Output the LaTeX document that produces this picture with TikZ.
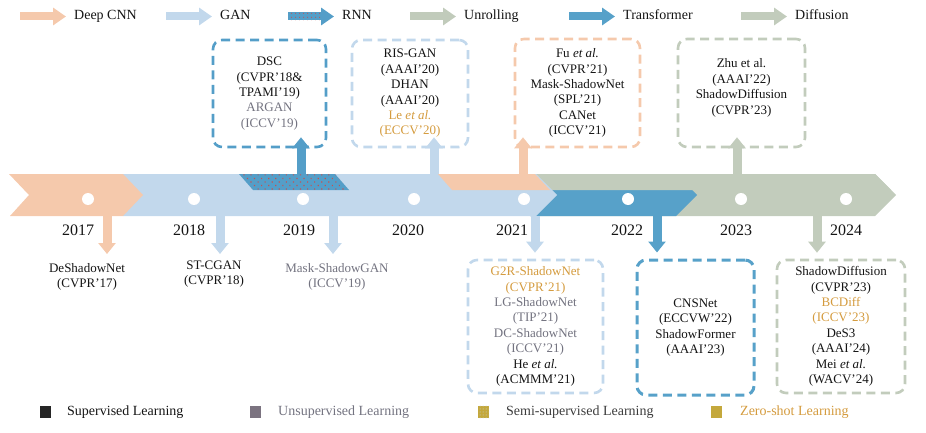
\documentclass[tikz,border=0pt]{standalone}
\usepackage{fontspec}
\setmainfont{Liberation Serif}
\usetikzlibrary{arrows.meta,calc,patterns.meta}

\definecolor{cnn}{RGB}{245,201,172}
\definecolor{gan}{RGB}{194,216,236}
\definecolor{rnn}{RGB}{84,158,200}
\definecolor{rnndot}{RGB}{200,80,80}
\definecolor{unroll}{RGB}{193,203,187}
\definecolor{trans}{RGB}{87,161,201}
\definecolor{diff}{RGB}{194,204,188}
\definecolor{ink}{RGB}{20,20,20}
\definecolor{unsup}{RGB}{115,115,128}
\definecolor{unsq}{RGB}{123,115,128}
\definecolor{supsq}{RGB}{38,38,38}
\definecolor{zero}{RGB}{212,155,62}
\definecolor{gold}{RGB}{196,168,60}
\definecolor{semi}{RGB}{60,60,60}

\tikzset{
  paper/.style={align=center,inner sep=0pt,text=ink,font=\fontsize{13}{15.4}\selectfont},
  dbox/.style={draw=#1,line width=2.6pt,dash pattern=on 9pt off 5.5pt,rounded corners=9pt,paper},
  yr/.style={inner sep=0pt,text=ink,font=\fontsize{16}{18}\selectfont},
  legtxt/.style={anchor=west,inner sep=0pt,text=ink,text height=10pt,text depth=3pt,font=\fontsize{14}{16}\selectfont},
  fat/.style={draw=#1,line width=9pt,-{Triangle[width=17pt,length=11pt]}},
  legarrow/.style={draw=#1,line width=8pt,-{Triangle[width=17pt,length=13pt]}},
  yeardot/.style={circle,fill=white,minimum size=12pt,inner sep=0pt},
  sq/.style={minimum width=11pt,minimum height=12pt,inner sep=0pt,fill=#1}
}

\begin{document}
\begin{tikzpicture}[x=1pt,y=-1pt]
\useasboundingbox (0,0) rectangle (926,433);

% legend, families
\node[legtxt] (lcnn) at (74,16.5) {Deep CNN};
\node[legtxt] (lgan) at (220,16.5) {GAN};
\node[legtxt] (lrnn) at (342,16.5) {RNN};
\node[legtxt] (lunr) at (464,16.5) {Unrolling};
\node[legtxt] (ltra) at (623,16.5) {Transformer};
\node[legtxt] (ldif) at (795,16.5) {Diffusion};
\draw[legarrow=cnn] ($(lcnn.west)+(-54,0)$) -- ($(lcnn.west)+(-8,0)$);
\draw[legarrow=gan] ($(lgan.west)+(-54,0)$) -- ($(lgan.west)+(-8,0)$);
\draw[legarrow=rnn] ($(lrnn.west)+(-54,0)$) -- ($(lrnn.west)+(-8,0)$);
\draw[legarrow=unroll] ($(lunr.west)+(-54,0)$) -- ($(lunr.west)+(-8,0)$);
\draw[legarrow=trans] ($(ltra.west)+(-54,0)$) -- ($(ltra.west)+(-8,0)$);
\draw[legarrow=diff] ($(ldif.west)+(-54,0)$) -- ($(ldif.west)+(-8,0)$);
\fill[pattern={Dots[distance=4pt,radius=0.7pt]},pattern color=rnndot]
    ($(lrnn.west)+(-54,-4)$) rectangle ($(lrnn.west)+(-21,4)$);

% time line
\fill[diff] (530,174)--(875,174)--(896,195)--(875,216)--(530,216)--cycle;
\fill[trans] (530,174)--(676,174)--(697,195)--(676,216)--(530,216)--cycle;
\fill[diff] (535,174)--(875,174)--(891,190)--(550,190)--cycle;
\fill[gan] (123,174)--(536,174)--(557,195)--(536,216)--(123,216)--cycle;
\fill[cnn] (438,174)--(535,174)--(550,190)--(452,190)--cycle;
\fill[cnn] (9,174)--(123,174)--(143,195)--(123,216)--(10,216)--(29,195)--cycle;
\fill[rnn] (239,174)--(335,174)--(349,190)--(253,190)--cycle;
\fill[pattern={Dots[distance=5pt,radius=0.8pt,angle=45]},pattern color=rnndot]
    (239,174)--(335,174)--(349,190)--(253,190)--cycle;

\foreach \x/\n in {88/17,194/18,303/19,414/20,524/21,628/22,741/23,846/24}
  \node[yeardot] (p\n) at (\x,199) {};
\foreach \x/\n in {78/2017,189/2018,299/2019,408/2020,512/2021,627/2022,736/2023,846/2024}
  \node[yr] (y\n) at (\x,230) {\n};

% papers above
\node[dbox=rnn,minimum width=113pt,minimum height=107pt] (dsc) at (269.5,93.5)
  {DSC\\(CVPR'18\&\\TPAMI'19)\\\textcolor{unsup}{ARGAN}\\\textcolor{unsup}{(ICCV'19)}};
\node[dbox=gan,minimum width=116pt,minimum height=107pt] (risgan) at (410,93.5)
  {RIS-GAN\\(AAAI'20)\\DHAN\\(AAAI'20)\\\textcolor{zero}{Le \textit{et al.}}\\\textcolor{zero}{(ECCV'20)}};
\node[dbox=cnn,minimum width=125pt,minimum height=108pt] (fu) at (577.5,93)
  {Fu \textit{et al.}\\(CVPR'21)\\Mask-ShadowNet\\(SPL'21)\\CANet\\(ICCV'21)};
\node[dbox=diff,minimum width=127pt,minimum height=108pt] (zhu) at (741.5,93)
  {Zhu et al.\\(AAAI'22)\\ShadowDiffusion\\(CVPR'23)\\[-2.5pt]\mbox{}};

% papers below
\node[paper] (deshadow) at (87,277) {DeShadowNet\\(CVPR'17)};
\node[paper] (stcgan) at (214,274) {ST-CGAN\\(CVPR'18)};
\node[paper,text=unsup] (maskgan) at (337,277) {Mask-ShadowGAN\\(ICCV'19)};
\node[dbox=gan,minimum width=135pt,minimum height=133pt] (g2r) at (535.5,326.5)
  {\textcolor{zero}{G2R-ShadowNet}\\\textcolor{zero}{(CVPR'21)}\\
   \textcolor{unsup}{LG-ShadowNet}\\\textcolor{unsup}{(TIP'21)}\\
   \textcolor{unsup}{DC-ShadowNet}\\\textcolor{unsup}{(ICCV'21)}\\
   He \textit{et al.}\\(ACMMM'21)};
\node[dbox=trans,line width=3pt,minimum width=117pt,minimum height=135pt] (cnsnet) at (695.5,327.5)
  {CNSNet\\(ECCVW'22)\\ShadowFormer\\(AAAI'23)};
\node[dbox=diff,minimum width=128pt,minimum height=133pt] (sdiff) at (841,326.5)
  {ShadowDiffusion\\(CVPR'23)\\\textcolor{zero}{BCDiff}\\\textcolor{zero}{(ICCV'23)}\\
   DeS3\\(AAAI'24)\\Mei \textit{et al.}\\(WACV'24)};

% arrows up
\coordinate (u19) at (301,174);
\coordinate (u20) at (434,174);
\coordinate (u21) at (523,174);
\coordinate (u22) at (737,174);
\draw[fat=rnn] (u19) -- ($(u19 |- dsc.south)+(0,-11)$);
\draw[fat=gan] (u20) -- ($(u20 |- risgan.south)+(0,-11)$);
\draw[fat=cnn] (u21) -- ($(u21 |- fu.south)+(0,-11)$);
\draw[fat=diff] (u22) -- ($(u22 |- zhu.south)+(0,-11)$);

% arrows down
\coordinate (d17) at (107,216);  \coordinate (t17) at (107,254);
\coordinate (d18) at (220,216);  \coordinate (t18) at (220,254);
\coordinate (d19) at (333,216);  \coordinate (t19) at (333,254);
\coordinate (d21) at (535,216);
\coordinate (d22) at (657,216);
\coordinate (d24) at (817,216);
\draw[fat=cnn] (d17) -- (t17);
\draw[fat=gan] (d18) -- (t18);
\draw[fat=gan] (d19) -- (t19);
\draw[fat=gan] (d21) -- ($(d21 |- g2r.north)+(0,-6)$);
\draw[fat=trans] (d22) -- ($(d22 |- cnsnet.north)+(0,-6)$);
\draw[fat=diff] (d24) -- ($(d24 |- sdiff.north)+(0,-6)$);

% legend, supervision
\node[sq=supsq] (ssup) at (45.5,412) {};
\node[sq=unsq] (suns) at (255.5,412) {};
\node[sq=gold] (ssemi) at (483.5,412) {};
\node[sq=gold] (szero) at (716.5,412) {};
\fill[pattern={Dots[distance=3pt,radius=0.5pt]},pattern color=gan]
    (ssemi.south west) rectangle (ssemi.north east);
\node[legtxt] (tsup) at (67,412) {Supervised Learning};
\node[legtxt,text=unsup] (tuns) at (278,412) {Unsupervised Learning};
\node[legtxt,text=semi] (tsemi) at (506,412) {Semi-supervised Learning};
\node[legtxt,text=zero] (tzero) at (740,412) {Zero-shot Learning};
\end{tikzpicture}
\end{document}
